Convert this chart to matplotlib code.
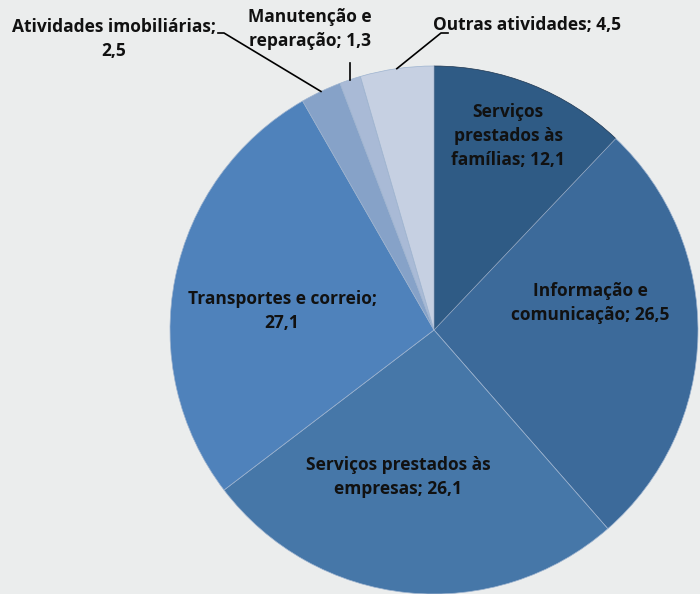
import numpy as np
import matplotlib
matplotlib.use("Agg")
from matplotlib import pyplot as plt

# setores e participação (%)
setores = ["Serviços prestados às famílias", "Informação e comunicação",
           "Serviços prestados às empresas", "Transportes e correio",
           "Atividades imobiliárias", "Manutenção e reparação", "Outras atividades"]
valores = [12.1, 26.5, 26.1, 27.1, 2.5, 1.3, 4.5]
rotulos = ["Serviços\nprestados às\nfamílias; 12,1",
           "Informação e\ncomunicação; 26,5",
           "Serviços prestados às\nempresas; 26,1",
           "Transportes e correio;\n27,1",
           "Atividades imobiliárias;\n2,5",
           "Manutenção e\nreparação; 1,3",
           "Outras atividades; 4,5"]
cores = ["#2f5b85", "#3c6a9a", "#4677a8", "#4f82bb", "#86a2c8", "#a9bad6", "#c6d0e2"]

W, H = 700, 594
cx, cy, r = 434, 330, 264

plt.rcParams['font.family'] = ['Open Sans', 'DejaVu Sans']
fig = plt.figure(figsize=(7, 5.94), dpi=100)
fig.patch.set_facecolor("#ebeded")
ax = fig.add_axes([0, 0, 1, 1])

wedges, _ = ax.pie(valores, colors=cores, startangle=90, counterclock=False,
                   center=(cx, H - cy), radius=r,
                   wedgeprops=dict(edgecolor="#9db3cf", linewidth=0.5))
wedges[0].set_edgecolor("#1d3550")
ax.set_xlim(0, W)
ax.set_ylim(0, H)
ax.set_aspect("equal")
ax.axis("off")

fs = 12.5
kw = dict(fontsize=fs, fontweight="bold", color="#111111", ha="center",
          va="center", linespacing=1.45)

# rótulos internos
ax.text(508, H - 136, rotulos[0], **kw)
ax.text(590, H - 303, rotulos[1], **kw)
ax.text(398, H - 477, rotulos[2], **kw)
ax.text(282, H - 311, rotulos[3], **kw)

# rótulos externos com linha de chamada
def ponta(i):
    w = wedges[i]
    a = np.deg2rad((w.theta1 + w.theta2) / 2)
    return cx + r * np.cos(a), H - cy + r * np.sin(a)

ax.text(114, H - 39, rotulos[4], **kw)
px, py = ponta(4)
ax.plot([218, 224, px], [H - 33, H - 33, py], color="black", lw=1.2)

ax.text(310, H - 29, rotulos[5], **kw)
px, py = ponta(5)
ax.plot([px, px], [py, H - 63], color="black", lw=1.2)

ax.text(527, H - 25, rotulos[6], **kw)
px, py = ponta(6)
ax.plot([448, 441, px], [H - 33, H - 33, py], color="black", lw=1.2)

fig.savefig("out.png", dpi=100, facecolor=fig.get_facecolor())
